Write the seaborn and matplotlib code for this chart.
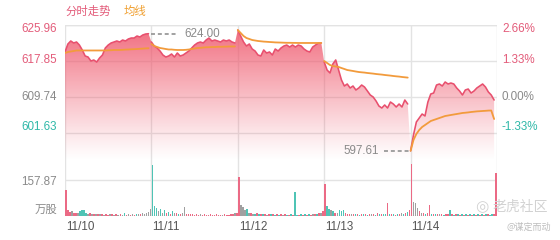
import numpy as np
import pandas as pd
import matplotlib
matplotlib.use("Agg")
import matplotlib.pyplot as plt
import seaborn as sns

# ---------------- data ----------------
dates = ["11/10", "11/11", "11/12", "11/13", "11/14"]
prev_close = 609.74
price_ticks = [625.96, 617.85, 609.74, 601.63]
pct_labels = ["2.66%", "1.33%", "0.00%", "-1.33%"]
vol_tick = 157.87
max_price = 624.00
min_price = 597.61

price_d1 = [619.88, 621.68, 622.36, 621.91, 622.13, 621.45, 620.33, 618.98, 618.75, 617.85,
            618.08, 617.62, 618.53, 619.20, 620.78, 621.45, 621.91, 622.13, 622.36, 622.13,
            622.58, 622.36, 622.81, 623.03, 623.03, 623.48, 623.26, 623.71, 623.93, 624.00]
price_d2 = [622.13, 621.23, 620.78, 620.10, 619.20, 618.75, 618.98, 619.43, 618.75, 619.65,
            618.98, 619.20, 619.65, 620.10, 620.78, 621.45, 621.91, 622.13, 621.91, 622.58,
            623.03, 622.36, 622.58, 622.36, 622.13, 622.58, 622.36, 622.58, 622.13, 621.91]
price_d3 = [624.83, 623.48, 622.13, 621.23, 621.68, 620.55, 620.10, 619.20, 618.98, 620.33,
            619.65, 619.88, 619.20, 620.55, 620.10, 620.78, 621.23, 621.45, 621.00, 621.45,
            621.00, 621.45, 621.23, 620.55, 620.10, 619.88, 621.00, 621.45, 621.91, 621.91]
price_d4 = [617.62, 615.82, 615.15, 617.17, 618.08, 615.82, 613.57, 612.22, 612.67, 611.77,
            612.22, 611.32, 611.77, 612.44, 611.99, 611.09, 610.19, 609.74, 608.84, 607.71,
            607.26, 607.94, 607.26, 608.61, 608.16, 607.49, 608.16, 607.49, 609.06, 608.16]
price_d5 = [597.61, 601.18, 604.11, 605.01, 605.91, 605.46, 608.61, 610.42, 610.64, 612.44,
            612.67, 612.22, 613.12, 612.67, 612.89, 612.67, 611.77, 611.09, 610.19, 611.32,
            611.54, 610.64, 611.09, 611.77, 612.22, 612.67, 611.99, 610.87, 610.19, 609.06]

avg_d1 = [619.65, 619.88, 619.99, 620.10, 620.22, 620.22, 620.22, 620.22, 620.22, 620.22,
          620.22, 620.22, 620.22, 620.22, 620.22, 620.26, 620.28, 620.33, 620.33, 620.33,
          620.37, 620.42, 620.44, 620.49, 620.51, 620.55, 620.60, 620.64, 620.69, 620.73]
avg_d2 = [621.68, 621.23, 621.00, 620.78, 620.67, 620.55, 620.44, 620.44, 620.37, 620.33,
          620.33, 620.33, 620.37, 620.44, 620.55, 620.67, 620.78, 620.82, 620.89, 620.94,
          620.96, 621.00, 621.00, 621.05, 621.05, 621.07, 621.09, 621.12, 621.12, 621.12]
avg_d3 = [624.83, 624.16, 623.48, 623.03, 622.81, 622.58, 622.47, 622.36, 622.29, 622.22,
          622.18, 622.13, 622.09, 622.04, 622.02, 622.00, 621.97, 621.95, 621.95, 621.93,
          621.93, 621.91, 621.91, 621.91, 621.91, 621.91, 621.91, 621.91, 621.91, 621.91]
avg_d4 = [617.85, 617.40, 616.95, 616.72, 616.61, 616.50, 616.27, 616.05, 615.82, 615.71,
          615.60, 615.48, 615.37, 615.30, 615.24, 615.15, 615.08, 615.01, 614.92, 614.85,
          614.79, 614.70, 614.63, 614.56, 614.47, 614.40, 614.34, 614.25, 614.18, 614.11]
avg_d5 = [597.61, 600.05, 601.41, 602.31, 602.98, 603.43, 603.88, 604.33, 604.56, 604.78,
          605.01, 605.23, 605.46, 605.57, 605.69, 605.80, 605.91, 606.02, 606.14, 606.20,
          606.27, 606.36, 606.43, 606.50, 606.54, 606.59, 606.63, 606.68, 606.70, 604.78]

vol_d1 = [114, 25, 18, 20, 15, 12, 14, 20, 28, 26, 15, 10, 12, 9, 10, 8, 9, 7, 8, 6, 9, 6,
          7, 10, 6, 7, 5, 8, 6, 12, 6, 7, 5, 9, 6, 7, 10, 8, 12, 9, 14, 18, 30]
vol_d2 = [225, 45, 35, 20, 30, 15, 28, 12, 18, 10, 22, 12, 15, 10, 9, 12, 38, 10, 8, 9, 7, 6,
          8, 5, 7, 6, 8, 5, 6, 7, 5, 6, 8, 5, 6, 5, 7, 6, 5, 8, 9, 12, 15]
vol_d3 = [170, 50, 40, 25, 30, 15, 12, 10, 9, 12, 8, 10, 7, 9, 6, 8, 7, 10, 6, 8, 5, 7, 6,
          8, 5, 6, 7, 5, 105, 6, 5, 7, 6, 8, 5, 7, 6, 9, 8, 10, 12, 15, 20]
vol_d4 = [140, 45, 30, 25, 20, 15, 12, 25, 24, 25, 12, 10, 9, 8, 10, 7, 9, 6, 8, 7, 10, 6, 8,
          7, 9, 6, 12, 8, 7, 10, 9, 55, 8, 7, 9, 6, 10, 8, 12, 9, 14, 18, 25]
vol_d5 = [230, 60, 55, 35, 20, 15, 12, 10, 14, 48, 10, 9, 8, 10, 7, 9, 6, 8, 7, 26, 8, 6, 7,
          9, 6, 8, 5, 7, 6, 8, 5, 7, 6, 9, 6, 8, 5, 7, 9, 6, 8, 10, 189]
# r = up (red), g = down (teal), n = flat (grey); groups of ten, 43 per day
vol_dir_d1 = "rrrnrrnggg gnrnrnrnrn rrnrnrnrng rnrnrgnrnn nnn"
vol_dir_d2 = "gggngngrgr gnrgrnnrrr rrrrnrrrrr rrrrrnrrrr rnr"
vol_dir_d3 = "rnnngnrngr grgrnrgrgr grnrgrgrgg rgrgrgrnrg rnr"
vol_dir_d4 = "rggngrnggg rrrnrgrgrg rgrnrgrgrg grgrgrgrng rgr"
vol_dir_d5 = "rnnnrnrgrr grgrnrgrrg rgrgrgrgrg rgrgrgrgrg grr"

# ---------------- build frames ----------------
price = price_d1 + price_d2 + price_d3 + price_d4 + price_d5
avg = avg_d1 + avg_d2 + avg_d3 + avg_d4 + avg_d5
n_per_day = len(price_d1)
idx = np.arange(len(price))
df = pd.DataFrame({"t": idx / n_per_day, "day": idx // n_per_day, "price": price, "avg": avg})

vol = vol_d1 + vol_d2 + vol_d3 + vol_d4 + vol_d5
vdir = "".join((vol_dir_d1 + vol_dir_d2 + vol_dir_d3 + vol_dir_d4 + vol_dir_d5).split())
nv = len(vol_d1)
vdf = pd.DataFrame({"t": (np.arange(len(vol)) + 0.5) / nv, "vol": vol, "dir": list(vdir)})

# ---------------- style ----------------
sns.set_theme(style="white")
plt.rcParams["font.family"] = ["Liberation Sans", "Noto Sans CJK SC", "DejaVu Sans"]

RED = "#e8506e"
ORANGE = "#f29b3c"
GRID = "#e3e3e3"
GREY_TXT = "#8a8a8a"
dir_colors = {"r": "#eb6a85", "g": "#4fc4b5", "n": "#a0a0a0"}

W, H = 560, 240
fig = plt.figure(figsize=(W / 100, H / 100), dpi=100)


def fx(x):
    return x / W


def fy(y):
    return 1 - y / H


L, R = 65, 497
# background axes for vertical grid lines
bg = fig.add_axes([fx(L), fy(216), fx(R) - fx(L), fy(25) - fy(216)])
bg.set_xlim(0, 5)
bg.set_ylim(0, 1)
bg.axis("off")
for d in range(6):
    bg.axvline(d, color=GRID, lw=1, zorder=0)
bg.axhline(1, color=GRID, lw=1)

# price axes (y 25 -> 169 px  ==  625.96 -> 593.52)
pmax = price_ticks[0]
pmin = prev_close - (pmax - prev_close)
ax = fig.add_axes([fx(L), fy(169), fx(R) - fx(L), fy(25) - fy(169)])
ax.patch.set_alpha(0)
for p in price_ticks:
    ax.axhline(p, color=GRID, lw=1, zorder=0)

# gradient fill under the price line
poly = ax.fill_between(df["t"], df["price"], pmin, color="none", lw=0)
ys = np.linspace(pmax, pmin, 300)
alpha = np.clip((ys - 595.5) / (pmax - 595.5), 0, 1) ** 1.1 * 0.9
img = np.zeros((300, 1, 4))
img[..., 0] = 0.94
img[..., 1] = 0.35
img[..., 2] = 0.43
img[:, 0, 3] = alpha
im = ax.imshow(img, extent=[0, 5, pmin, pmax], aspect="auto", zorder=1, interpolation="bilinear")
im.set_clip_path(poly.get_paths()[0], transform=ax.transData)

sns.lineplot(data=df, x="t", y="price", units="day", estimator=None, ax=ax, color=RED, lw=1.15, zorder=3)
sns.lineplot(data=df, x="t", y="avg", units="day", estimator=None, ax=ax, color=ORANGE, lw=1.3, zorder=4)
ax.set_xlim(0, 5)
ax.set_ylim(pmin, pmax)
ax.axis("off")

# max / min markers
ax.plot([1.0, 1.31], [max_price, max_price], ls=(0, (2.2, 1.6)), color="#9a9a9a", lw=1.3, zorder=5)
ax.text(1.38, max_price, f"{max_price:.2f}", color=GREY_TXT, fontsize=8.4, va="center", ha="left")
ax.plot([3.69, 4.0], [min_price, min_price], ls=(0, (2.2, 1.6)), color="#9a9a9a", lw=1.3, zorder=5)
ax.text(3.63, min_price, f"{min_price:.2f}", color=GREY_TXT, fontsize=8.4, va="center", ha="right")

# volume axes (216 px -> 0, 180 px -> 157.87)
vmax = vol_tick * 2
vax = fig.add_axes([fx(L), fy(216), fx(R) - fx(L), fy(144) - fy(216)])
vax.patch.set_alpha(0)
vax.axhline(vol_tick, color=GRID, lw=1, zorder=0)
vax.axhline(0, color=GRID, lw=1, zorder=0)
vax.bar(vdf["t"], vdf["vol"], width=0.75 / nv, color=[dir_colors[c] for c in vdf["dir"]], lw=0, zorder=2)
vax.set_xlim(0, 5)
vax.set_ylim(0, vmax)
vax.axis("off")

# ---------------- texts ----------------
cjk = ["Noto Sans CJK SC", "DejaVu Sans"]
fs = 8.4
fig.text(fx(65), fy(11), "分时走势", color="#e35c7a", fontsize=8.2, family=cjk, va="center", ha="left")
fig.text(fx(124), fy(11), "均线", color="#f0a032", fontsize=8.2, family=cjk, va="center", ha="left")

left_cols = ["#e35c7a", "#e35c7a", GREY_TXT, "#2fb8a8"]
left_y = [29, 60, 97, 127]
for p, c, yy in zip(price_ticks, left_cols, left_y):
    fig.text(fx(57), fy(yy), f"{p:.2f}", color=c, fontsize=fs, va="center", ha="right")
for s, c, yy in zip(pct_labels, left_cols, left_y):
    fig.text(fx(502), fy(yy), s, color=c, fontsize=fs, va="center", ha="left")

fig.text(fx(57), fy(182), f"{vol_tick:.2f}", color=GREY_TXT, fontsize=fs, va="center", ha="right")
fig.text(fx(57), fy(210), "万股", color=GREY_TXT, fontsize=8.2, family=cjk, va="center", ha="right")

for i, d in enumerate(dates):
    fig.text(fx(L + 1 + i * (R - L) / 5), fy(227), d, color="#555555", fontsize=fs, va="center", ha="left")

# watermark
fig.text(fx(548), fy(207), "老虎社区", color="#d2d2d2", fontsize=10, family=cjk, va="center", ha="right")
fig.text(fx(488), fy(207), "◎", color="#d2d2d2", fontsize=11, family=["DejaVu Sans"], va="center", ha="right")
fig.text(fx(551), fy(227), "@谋定而动", color="#bdbdbd", fontsize=6.5, family=cjk, va="center", ha="right")

fig.savefig("out.png", dpi=100)
